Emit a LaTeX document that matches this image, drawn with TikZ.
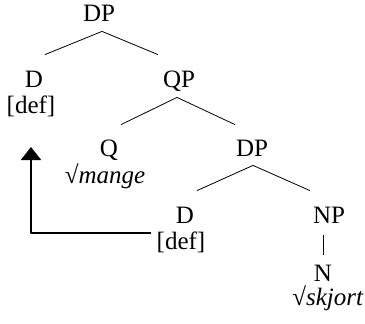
\documentclass[tikz,border=0pt]{standalone}
\usepackage{fontspec}
\setmainfont{Liberation Serif}
\usetikzlibrary{arrows.meta}
\begin{document}
\begin{tikzpicture}[x=1pt,y=1pt,line join=round,line width=0.8pt,font=\fontsize{25}{30}\selectfont,
	cat/.style={anchor=base,inner sep=0pt,text height=16pt,text depth=0pt},
	feat/.style={anchor=base,inner sep=0pt},
	mvt/.style={line width=2pt,-{Triangle[width=20pt,length=13pt]}}]
	\useasboundingbox (0,0) rectangle (365,-324);
	% categories
	\node[cat] (dpa) at (99,-22) {DP};
	\node[cat] (da) at (34,-87) {D};
	\node[feat] (defa) at (31,-113) {[def]};
	\node[cat] (qp) at (179,-87) {QP};
	\node[cat] (q) at (109,-157) {Q};
	\node[feat] (mange) at (105,-183) {√\textit{mange}};
	\node[cat] (dpb) at (252,-157) {DP};
	\node[cat] (db) at (185,-223) {D};
	\node[feat] (defb) at (181,-249) {[def]};
	\node[cat] (np) at (329,-223) {NP};
	\node[cat] (n) at (323,-281) {N};
	\node[feat,anchor=base east] (skjort) at (364,-305) {√\textit{skjort}};
	% branches
	\draw ([shift={(3pt,-9pt)}]dpa.south) -- ([shift={(11pt,16pt)}]da.north);
	\draw ([shift={(3pt,-9pt)}]dpa.south) -- ([shift={(-21pt,16pt)}]qp.north);
	\draw ([shift={(-2pt,-10pt)}]qp.south) -- ([shift={(12pt,16pt)}]q.north);
	\draw ([shift={(-2pt,-10pt)}]qp.south) -- ([shift={(-17pt,16pt)}]dpb.north);
	\draw ([shift={(1pt,-8pt)}]dpb.south) -- ([shift={(12pt,16pt)}]db.north);
	\draw ([shift={(1pt,-8pt)}]dpb.south) -- ([shift={(-19pt,16pt)}]np.north);
	\draw ([yshift=10pt]n.north) -- ([shift={(-6pt,-12pt)}]np.south);
	% movement
	\draw[mvt] ([shift={(-5pt,16pt)}]defb.base west) -| ([yshift=-34pt]defa.base);
\end{tikzpicture}
\end{document}
